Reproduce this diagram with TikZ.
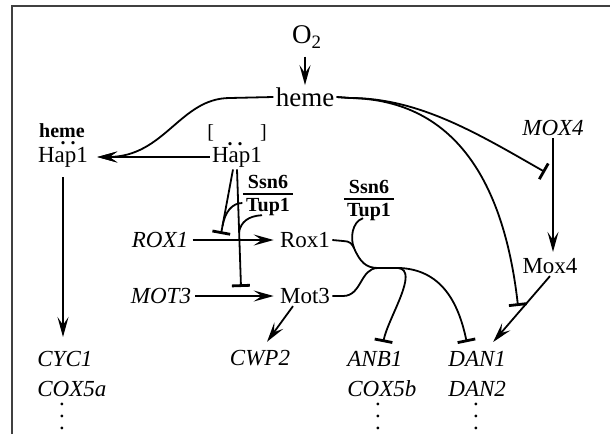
\documentclass[tikz,border=0pt]{standalone}
\usepackage{fontspec}
\setmainfont{Liberation Serif}
\usepackage{tikz}
\usetikzlibrary{arrows.meta, positioning}

\setlength{\arrayrulewidth}{0.8pt}
\newcommand{\cplx}[2]{\begin{tabular}{@{\,}c@{\,}}#1\\[-1pt]\hline #2\end{tabular}}

\begin{document}
\begin{tikzpicture}[x=0.5pt, y=-0.5pt,
  prot/.style={inner sep=1pt, font=\fontsize{11.5}{15}\selectfont},
  gene/.style={inner sep=1pt, font=\fontsize{11.5}{15}\selectfont\itshape, align=left},
  cofac/.style={inner sep=0pt, font=\fontsize{10}{12}\selectfont\bfseries},
  bigtext/.style={inner sep=1pt, font=\fontsize{13.5}{16}\selectfont},
  dotcol/.style={inner sep=0pt, align=center, font=\fontsize{11.5}{6}\selectfont},
  link/.style={line width=0.9pt},
  act/.style={-{Stealth[length=10pt, width=5.5pt, inset=4pt]}, line width=0.9pt},
  inh/.style={-{Bar[width=9pt, line width=1.4pt]}, line width=0.9pt}
]
  \useasboundingbox (0,0) rectangle (610,434);
  \draw[line width=1pt, black!75] (12,434) -- (12,6) -- (610,6);

  % oxygen and heme
  \node[bigtext] (o2) at (307,37) {O\textsubscript{2}};
  \node[bigtext] (heme) at (305,97) {heme};

  % Hap1 with and without heme
  \node[prot] (hapA) at (63,157) {Hap1};
  \node[cofac] (hemeA) at (62,131) {heme};
  \node[cofac] (dotsA) at (68,143) {.\hspace{2.5pt}.};
  \node[prot] (hapB) at (237,157) {Hap1};
  \node[inner sep=0pt, font=\fontsize{10}{12}\selectfont] (brB) at (237,133) {[\hspace{23pt}]};
  \node[cofac] (dotsB) at (235,144) {.\hspace{2.5pt}.};

  \node[cofac] (sst1) at (268,195) {\cplx{Ssn6}{Tup1}};
  \node[cofac] (sst2) at (369,200) {\cplx{Ssn6}{Tup1}};

  \node[gene] (rox1g) at (160,240) {ROX1};
  \node[prot] (rox1) at (305,240) {Rox1};
  \node[gene] (mot3g) at (161,296) {MOT3};
  \node[prot] (mot3) at (305,296) {Mot3};
  \node[gene] (mox4g) at (553,128) {MOX4};
  \node[prot] (mox4) at (550,266) {Mox4};

  % target genes
  \node[gene, anchor=north west] (cyc) at (35,349) {CYC1\\COX5a};
  \node[gene] (cwp2) at (260,358) {CWP2};
  \node[gene, anchor=north west] (anb) at (345,349) {ANB1\\COX5b};
  \node[gene, anchor=north west] (dan) at (446,349) {DAN1\\DAN2};
  \node[dotcol] (cycdots) at (62,416) {.\\.\\.};
  \node[dotcol] (anbdots) at (378,416) {.\\.\\.};
  \node[dotcol] (dandots) at (476,416) {.\\.\\.};

  \coordinate (bar1) at (221,234);
  \coordinate (bar2) at (241,287);
  \coordinate (ja) at (222.5,226);
  \coordinate (jb) at (239,232);
  \coordinate (jr) at (354,248);
  \coordinate (jn) at (378,268);
  \coordinate (tmox) at (545,172);
  \coordinate (tdan) at (518,306);

  \draw[act, shorten <=3pt] (heme.north |- o2.south) -- (heme.north);
  \draw[act, shorten >=3.5pt] (heme.west) -- (230,98) .. controls (180,98) and (165,157) .. (hapA.east);
  \draw[act, shorten >=3.5pt] (hapB.west) -- (hapA.east);
  \draw[act, shorten <=4pt, shorten >=6pt] (hapA.south) -- (hapA.south |- cyc.north);

  \draw[inh] ([xshift=-2pt]hapB.south) -- (bar1);
  \draw[inh] (hapB.south) -- (bar2);
  \draw[link] ([yshift=-4pt]sst1.west) .. controls (232,203) and (225,212) .. (ja);
  \draw[link] ([xshift=-3pt,yshift=2pt]sst1.south) .. controls (248,216) and (241,222) .. (jb);

  \draw[act, shorten <=1pt, shorten >=2pt] (rox1g) -- (rox1);
  \draw[act, shorten <=1pt, shorten >=2pt] (mot3g) -- (mot3);
  \draw[act] ([xshift=-6pt]mot3.south) -- ([xshift=3.5pt,yshift=3pt]cwp2.north);

  % Rox1 and Mot3 repress together
  \draw[link] (rox1.east) -- (343,241) .. controls (350,241) and (352,244) .. (jr) .. controls (360,262) and (366,268) .. (jn);
  \draw[link] ([xshift=-3pt,yshift=3pt]sst2.south) .. controls (352,222) and (350,238) .. (jr);
  \draw[link] (mot3.east) -- (343,296) .. controls (362,296) and (360,268) .. (jn);
  \draw[inh, shorten >=3.5pt] (jn) -- (398,268) .. controls (420,270) and (388,318) .. (anb.north);
  \draw[inh, shorten >=3.5pt] (jn) -- (400,268) .. controls (440,270) and (458,300) .. ([xshift=-4.5pt]dan.north);

  \draw[inh] (heme.east) -- (350,98) .. controls (420,98) and (480,135) .. (tmox);
  \draw[inh] (heme.east) -- (350,98) .. controls (460,100) and (505,190) .. (tdan);
  \draw[act, shorten >=2pt] (mox4g.south) -- (mox4g.south |- mox4.north);
  \draw[act] (mox4.south) -- ([xshift=8pt,yshift=3.5pt]dan.north);
\end{tikzpicture}
\end{document}
